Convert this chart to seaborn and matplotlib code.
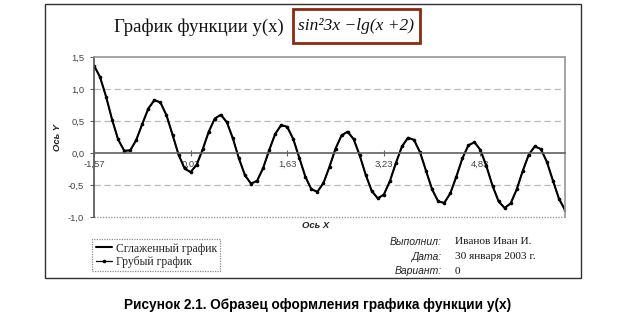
import matplotlib
matplotlib.use("Agg")
import matplotlib.pyplot as plt
from matplotlib.patches import Rectangle
import seaborn as sns
import pandas as pd

# ---- data ----
x_values = [-1.57, -1.47, -1.37, -1.27, -1.17, -1.07, -0.97, -0.87, -0.77, -0.67,
            -0.57, -0.47, -0.37, -0.27, -0.17, -0.07, 0.03, 0.13, 0.23, 0.33,
            0.43, 0.53, 0.63, 0.73, 0.83, 0.93, 1.03, 1.13, 1.23, 1.33,
            1.43, 1.53, 1.63, 1.73, 1.83, 1.93, 2.03, 2.13, 2.23, 2.33,
            2.43, 2.53, 2.63, 2.73, 2.83, 2.93, 3.03, 3.13, 3.23, 3.33,
            3.43, 3.53, 3.63, 3.73, 3.83, 3.93, 4.03, 4.13, 4.23, 4.33,
            4.43, 4.53, 4.63, 4.73, 4.83, 4.93, 5.03, 5.13, 5.23, 5.33,
            5.43, 5.53, 5.63, 5.73, 5.83, 5.93, 6.03, 6.13, 6.23]
y_values = [1.367, 1.187, 0.880, 0.521, 0.211, 0.036, 0.040, 0.204, 0.456, 0.695,
            0.826, 0.790, 0.590, 0.287, -0.024, -0.242, -0.299, -0.184, 0.057, 0.332,
            0.538, 0.597, 0.482, 0.227, -0.084, -0.348, -0.479, -0.435, -0.238, 0.041,
            0.297, 0.437, 0.409, 0.217, -0.076, -0.370, -0.568, -0.605, -0.470, -0.215,
            0.068, 0.276, 0.333, 0.216, -0.037, -0.341, -0.594, -0.709, -0.650, -0.440,
            -0.155, 0.102, 0.238, 0.205, 0.009, -0.282, -0.570, -0.757, -0.779, -0.632,
            -0.370, -0.085, 0.119, 0.169, 0.046, -0.210, -0.512, -0.755, -0.859, -0.788,
            -0.569, -0.281, -0.026, 0.104, 0.062, -0.139, -0.431, -0.714, -0.890]
x_tick_values = [-1.57, 0.03, 1.63, 3.23, 4.83]
x_tick_labels = ["-1,57", "0,03", "1,63", "3,23", "4,83"]
y_tick_values = [-1.0, -0.5, 0.0, 0.5, 1.0, 1.5]
y_tick_labels = ["-1,0", "-0,5", "0,0", "0,5", "1,0", "1,5"]
series_names = ["Сглаженный график", "Грубый график"]
info_labels = ["Выполнил:", "Дата:", "Вариант:"]
info_values = ["Иванов Иван И.", "30 января 2003 г.", "0"]

df = pd.DataFrame({"x": x_values, "y": y_values})

sns.set_theme(style="white")
plt.rcParams["font.family"] = ["Liberation Sans", "DejaVu Sans"]

W, H = 635, 320
fig = plt.figure(figsize=(W / 100, H / 100), dpi=100)
fig.patch.set_facecolor("white")

def fx(px):
    return px / W

def fy(py):
    return 1 - py / H

ax = fig.add_axes([fx(94), fy(217), fx(565) - fx(94), fy(57) - fy(217)])
ax.set_facecolor("white")

sns.lineplot(data=df, x="x", y="y", ax=ax, color="black", lw=1.5,
             label=series_names[0], sort=False)
sns.lineplot(data=df, x="x", y="y", ax=ax, color="black", lw=0.9,
             marker="o", markersize=2.6, markeredgewidth=0,
             label=series_names[1], sort=False)

ax.set_xlim(-1.57, 6.23)
ax.set_ylim(-1.0, 1.5)

# gridlines
for gy in [1.0, 0.5, -0.5]:
    ax.axhline(gy, color="#B8B8B8", lw=0.9, ls=(0, (5, 3)), zorder=0)
ax.axhline(-1.0, color="#9A9A9A", lw=1.0, ls=(0, (1, 1)), clip_on=False, zorder=0)

# spines
ax.spines["top"].set_color("#9A9A9A")
ax.spines["top"].set_linestyle((0, (1, 1)))
ax.spines["right"].set_color("#9A9A9A")
ax.spines["right"].set_linestyle((0, (1, 1)))
ax.spines["left"].set_color("#505050")
ax.spines["left"].set_linewidth(1.2)
ax.spines["bottom"].set_position(("data", 0))
ax.spines["bottom"].set_color("#606060")
ax.spines["bottom"].set_linewidth(1.2)
for s in ax.spines.values():
    s.set_visible(True)

ax.set_xticks(x_tick_values)
ax.set_xticklabels(x_tick_labels)
ax.set_yticks(y_tick_values)
ax.set_yticklabels(y_tick_labels)
ax.tick_params(axis="x", direction="inout", length=4, width=0.8, color="#606060",
               pad=3, labelsize=6.8, labelcolor="#444444", bottom=True)
ax.tick_params(axis="y", direction="out", length=3, width=0.8, color="#606060",
               pad=4, labelsize=6.8, labelcolor="#444444", left=True)
ax.set_xlabel("")
ax.set_ylabel("")

# axis titles
fig.text(fx(57), fy(137), "Ось Y", rotation=90, ha="center", va="center",
         fontsize=6.8, style="italic", weight="bold", color="#222222")
fig.text(fx(316), fy(226), "Ось X", ha="center", va="center",
         fontsize=6.8, style="italic", weight="bold", color="#222222")

# title and formula box
fig.text(fx(199), fy(27), "График функции y(x)", ha="center", va="center",
         fontsize=13.5, family=["Liberation Serif", "DejaVu Serif"], color="#111111")
fig.add_artist(Rectangle((fx(293), fy(43)), fx(420) - fx(293), fy(9) - fy(43),
                         transform=fig.transFigure, fill=False,
                         ec="#8B2A10", lw=2.0))
fig.text(fx(356), fy(26), "sin²3x −lg(x +2)", ha="center", va="center",
         fontsize=12.5, style="italic",
         family=["Liberation Serif", "DejaVu Serif"], color="#111111")

# legend
h, l = ax.get_legend_handles_labels()
ax.get_legend().remove()
leg = fig.legend(h, l, loc="upper left", bbox_to_anchor=(fx(92), fy(239)),
                 bbox_transform=fig.transFigure, borderaxespad=0,
                 frameon=True, fancybox=False, handlelength=1.4,
                 handletextpad=0.3, borderpad=0.3, labelspacing=0.1,
                 prop={"family": ["Liberation Serif", "DejaVu Serif"], "size": 8.5})
leg.get_frame().set_edgecolor("#707070")
leg.get_frame().set_linewidth(0.9)
leg.get_frame().set_linestyle((0, (1, 1)))

# info block
for i, (lab, val) in enumerate(zip(info_labels, info_values)):
    yy = fy(242 + i * 14.5)
    fig.text(fx(442), yy, lab, ha="right", va="center", fontsize=7.5,
             style="italic", color="#222222")
    fig.text(fx(455), yy, val, ha="left", va="center", fontsize=8.2,
             family=["Liberation Serif", "DejaVu Serif"], color="#111111")

# outer chart frame
fig.add_artist(Rectangle((fx(45), fy(278)), fx(581) - fx(45), fy(4) - fy(278),
                         transform=fig.transFigure, fill=False,
                         ec="#303030", lw=1.0))

# caption
fig.text(fx(318), fy(305), "Рисунок 2.1. Образец оформления графика функции y(x)",
         ha="center", va="center", fontsize=9.8, weight="bold", color="black")

fig.savefig("out.png", dpi=100, facecolor="white")
